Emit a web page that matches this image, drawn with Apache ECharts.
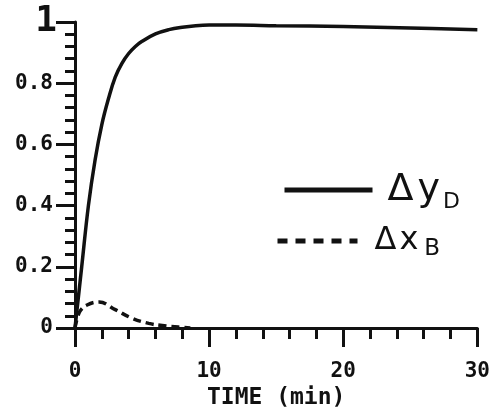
<!DOCTYPE html>
<html>
<head>
<meta charset="utf-8">
<script src="https://cdn.jsdelivr.net/npm/echarts@6/dist/echarts.min.js"></script>
<style>
  html, body { margin: 0; padding: 0; background: #fff; }
  #chart { width: 493px; height: 417px; }
</style>
</head>
<body>
<div id="chart"></div>
<script>
// Step response of the column: product composition (solid) and bottoms composition (dashed)
const timeYD = [0, 0.5, 1.0, 1.5, 2.0, 2.5, 3.0, 3.5, 4.0, 4.5, 5.0, 6.0, 7.0, 8.0, 9.0, 10.0, 12.0, 15.0, 20.0, 25.0, 30.0];
const deltaYD = [0, 0.20, 0.40, 0.55, 0.665, 0.75, 0.82, 0.865, 0.897, 0.92, 0.937, 0.961, 0.975, 0.983, 0.988, 0.99, 0.99, 0.988, 0.985, 0.98, 0.975];

const timeXB = [0, 0.35, 0.9, 1.8, 3.0, 4.3, 5.5, 6.5, 7.7, 8.6];
const deltaXB = [0, 0.053, 0.075, 0.085, 0.06, 0.031, 0.015, 0.008, 0.003, 0];

const xTicks = [0, 10, 20, 30];
const yTicks = [0, 0.2, 0.4, 0.6, 0.8, 1];

const ink = '#111';
const mono = '"DejaVu Sans Mono", monospace';
const hand = '"DejaVu Sans", sans-serif';

const pairs = (xs, ys) => xs.map((x, i) => [x, ys[i]]);

const chart = echarts.init(document.getElementById('chart'), null, { renderer: 'canvas' });

chart.setOption({
  animation: false,
  backgroundColor: '#fff',
  grid: { left: 75, right: 15, top: 22, bottom: 89 },
  xAxis: {
    type: 'value',
    min: xTicks[0],
    max: xTicks[xTicks.length - 1],
    interval: 10,
    name: 'TIME (min)',
    nameLocation: 'middle',
    nameGap: 57,
    nameTextStyle: { color: ink, fontFamily: mono, fontWeight: 'bold', fontSize: 23 },
    axisLine: { show: true, onZero: false, lineStyle: { color: ink, width: 3 } },
    axisTick: { show: true, length: 19, lineStyle: { color: ink, width: 3 } },
    minorTick: { show: true, splitNumber: 5, length: 11, lineStyle: { color: ink, width: 3 } },
    axisLabel: { color: ink, fontFamily: mono, fontWeight: 'bold', fontSize: 21, margin: 33 },
    splitLine: { show: false },
    minorSplitLine: { show: false }
  },
  yAxis: {
    type: 'value',
    min: yTicks[0],
    max: yTicks[yTicks.length - 1],
    interval: 0.2,
    axisLine: { show: true, onZero: false, lineStyle: { color: ink, width: 3 } },
    axisTick: { show: true, length: 19, lineStyle: { color: ink, width: 3 } },
    minorTick: { show: true, splitNumber: 5, length: 10, lineStyle: { color: ink, width: 3 } },
    axisLabel: {
      color: ink, fontFamily: mono, fontWeight: 'bold', fontSize: 21, margin: 22,
      formatter: v => (v === 1 ? '{big|1}' : String(v)),
      rich: { big: { fontFamily: mono, fontWeight: 'bold', fontSize: 36, color: ink, padding: [0, -4, 0, 0] } }
    },
    splitLine: { show: false },
    minorSplitLine: { show: false }
  },
  legend: [
    {
      data: ['ΔyD'],
      left: 277, top: 166,
      itemWidth: 88, itemHeight: 20,
      itemStyle: { opacity: 0 },
      lineStyle: { width: 5 },
      formatter: () => '{a|Δ}{b|y}{s|D}',
      textStyle: {
        rich: {
          a: { fontFamily: hand, fontSize: 38, color: ink, lineHeight: 46, padding: [0, 4, 0, 10] },
          b: { fontFamily: hand, fontSize: 38, color: ink, lineHeight: 46 },
          s: { fontFamily: hand, fontSize: 22, color: ink, lineHeight: 32, verticalAlign: 'bottom', padding: [0, 0, 0, 3] }
        }
      }
    },
    {
      data: ['ΔxB'],
      left: 270, top: 220,
      itemWidth: 80, itemHeight: 20,
      itemStyle: { opacity: 0 },
      lineStyle: { width: 5, type: [10, 8] },
      formatter: () => '{a|Δ}{b|x}{s|B}',
      textStyle: {
        rich: {
          a: { fontFamily: hand, fontSize: 32, color: ink, lineHeight: 40, padding: [0, 3, 0, 12] },
          b: { fontFamily: hand, fontSize: 32, color: ink, lineHeight: 40 },
          s: { fontFamily: hand, fontSize: 23, color: ink, lineHeight: 30, verticalAlign: 'bottom', padding: [0, 0, 0, 6] }
        }
      }
    }
  ],
  series: [
    {
      name: 'ΔyD',
      type: 'line',
      data: pairs(timeYD, deltaYD),
      symbol: 'none',
      smooth: 0.4,
      lineStyle: { color: ink, width: 3.5 },
      itemStyle: { color: ink },
      z: 3
    },
    {
      name: 'ΔxB',
      type: 'line',
      data: pairs(timeXB, deltaXB),
      symbol: 'none',
      smooth: 0.4,
      lineStyle: { color: ink, width: 3.5, type: [8, 5] },
      itemStyle: { color: ink },
      z: 3
    }
  ]
});
</script>
</body>
</html>
